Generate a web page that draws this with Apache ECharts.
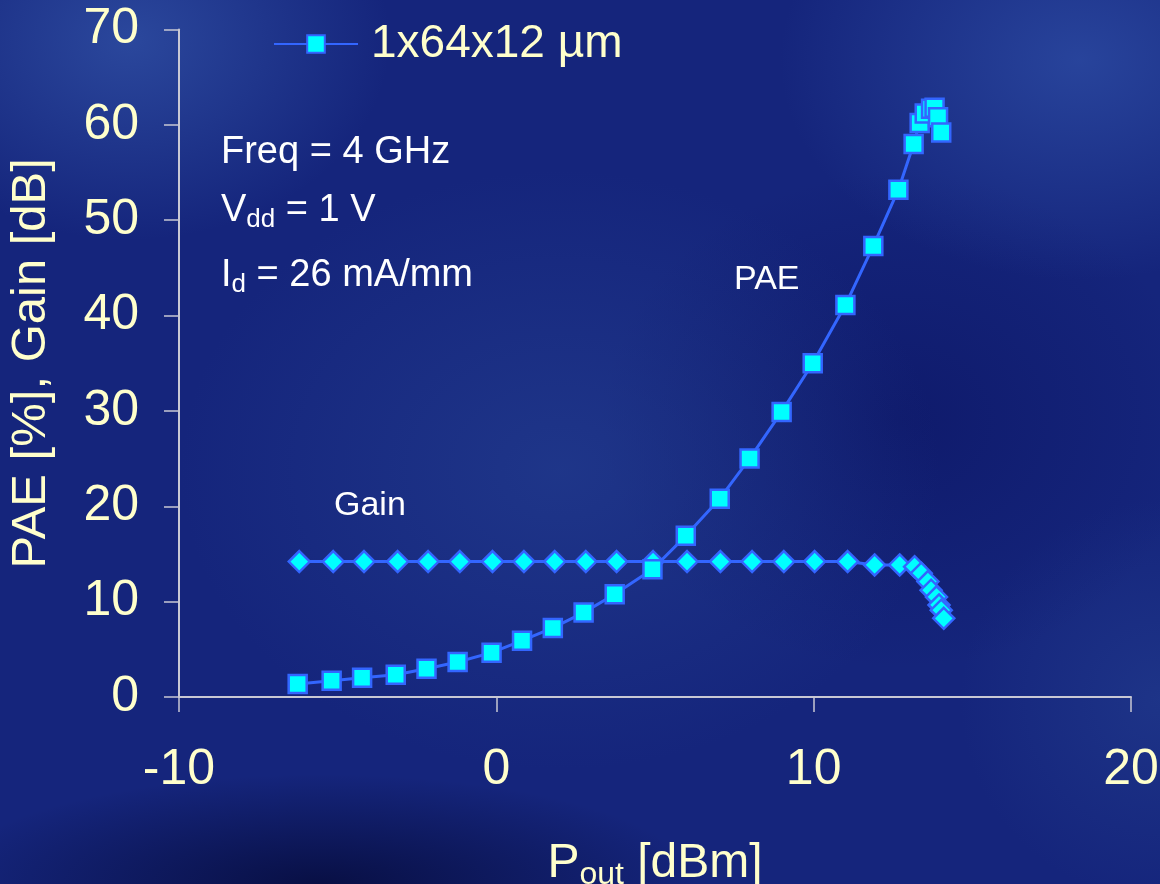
<!DOCTYPE html>
<html>
<head>
<meta charset="utf-8">
<script src="https://cdn.jsdelivr.net/npm/echarts@6/dist/echarts.min.js"></script>
<style>
html,body{margin:0;padding:0;width:1160px;height:884px;overflow:hidden;}
#bg{position:absolute;left:0;top:0;width:1160px;height:884px;
background:
 radial-gradient(ellipse 260px 200px at 130px 40px, rgba(52,86,170,0.7), rgba(52,86,170,0) 100%),
 radial-gradient(ellipse 300px 220px at 1080px 60px, rgba(50,84,172,0.65), rgba(50,84,172,0) 100%),
 radial-gradient(ellipse 380px 300px at 560px 470px, rgba(40,70,150,0.5), rgba(40,70,150,0) 100%),
 radial-gradient(ellipse 380px 110px at 320px 884px, rgba(4,8,50,0.75), rgba(4,8,50,0) 100%),
 radial-gradient(ellipse 300px 250px at 900px 420px, rgba(10,18,95,0.55), rgba(10,18,95,0) 100%),
 radial-gradient(ellipse 200px 200px at 1160px 700px, rgba(40,70,150,0.45), rgba(40,70,150,0) 100%),
 #15257c;}
#chart{position:absolute;left:0;top:0;width:1160px;height:884px;}
</style>
</head>
<body>
<div id="bg"></div>
<div id="chart"></div>
<script>
// Data
const paeName = '1x64x12 µm';
const gainName = 'Gain';
const paeX = [-6.26,-5.19,-4.23,-3.17,-2.20,-1.22,-0.15,0.81,1.78,2.75,3.73,4.92,5.97,7.04,7.98,8.99,9.97,11.0,11.88,12.67,13.15,13.34,13.5,13.7,13.81,13.92,14.02];
const paeY = [1.36,1.71,2.03,2.34,2.97,3.67,4.65,5.91,7.24,8.85,10.78,13.4,16.9,20.8,25.0,29.9,35.0,41.1,47.3,53.2,58.0,60.2,61.2,61.7,61.8,60.8,59.2];
const gainX = [-6.21,-5.14,-4.17,-3.11,-2.15,-1.15,-0.12,0.87,1.84,2.82,3.79,4.94,6.01,7.06,8.06,9.06,10.03,11.07,11.92,12.71,13.18,13.39,13.6,13.7,13.87,13.95,14.02,14.1];
const gainY = [14.2,14.2,14.2,14.2,14.2,14.2,14.2,14.2,14.2,14.2,14.2,14.2,14.2,14.2,14.2,14.2,14.2,14.2,13.85,13.85,13.67,12.98,12.1,11.2,10.5,9.65,9.1,8.25];
const xTicks = {min:-10, max:20, interval:10};
const yTicks = {min:0, max:70, interval:10};

const pair = (xs, ys) => xs.map((x, i) => [x, ys[i]]);

const labelColor = '#ffffcc';
const lineColor = '#3366ff';
const fillColor = '#00ffff';
const font = 'Liberation Sans, Arial, sans-serif';

const chart = echarts.init(document.getElementById('chart'), null, {renderer:'canvas'});
chart.setOption({
  backgroundColor: 'transparent',
  animation: false,
  textStyle: {fontFamily: font},
  grid: {left:179, right:29, top:29.5, bottom:187, containLabel:false, outerBoundsMode:'none'},
  legend: {
    data: [paeName],
    left: 268, top: 16,
    itemWidth: 84, itemHeight: 22,
    textStyle: {color: labelColor, fontSize: 46, fontFamily: font, padding:[0,0,0,8]}
  },
  xAxis: {
    type: 'value', min: xTicks.min, max: xTicks.max, interval: xTicks.interval,
    splitLine: {show:false},
    axisLine: {show:true, onZero:false, lineStyle:{color:'#c8c8d4', width:2}},
    axisTick: {show:true, inside:false, length:15, lineStyle:{color:'#c8c8d4', width:1.5}},
    axisLabel: {color: labelColor, fontSize: 50, margin: 48, fontFamily: font},
    name: '{a|P}{s|out}{a| [dBm]}',
    nameLocation: 'middle', nameGap: 140,
    nameTextStyle: {
      rich: {
        a: {color: labelColor, fontSize: 48, fontFamily: font},
        s: {color: labelColor, fontSize: 32, fontFamily: font, padding:[22,0,0,0]}
      }
    }
  },
  yAxis: {
    type: 'value', min: yTicks.min, max: yTicks.max, interval: yTicks.interval,
    splitLine: {show:false},
    axisLine: {show:true, onZero:false, lineStyle:{color:'#c8c8d4', width:2}},
    axisTick: {show:true, inside:false, length:15, lineStyle:{color:'#c8c8d4', width:1.5}},
    axisLabel: {color: labelColor, fontSize: 50, margin: 40, fontFamily: font},
    name: 'PAE [%], Gain [dB]',
    nameLocation: 'middle', nameGap: 123, nameRotate: 90,
    nameTextStyle: {color: labelColor, fontSize: 49, fontFamily: font}
  },
  graphic: [
    {type:'text', left:221, top:134, style:{text:'Freq = 4 GHz', fill:'#ffffff', font:'38px Liberation Sans, Arial, sans-serif'}},
    {type:'text', left:221, top:192, style:{
      text:'{a|V}{s|dd}{a| = 1 V}',
      rich:{a:{fill:'#ffffff', fontSize:38, fontFamily:font}, s:{fill:'#ffffff', fontSize:26, fontFamily:font, padding:[18,0,0,0]}}
    }},
    {type:'text', left:221, top:257, style:{
      text:'{a|I}{s|d}{a| = 26 mA/mm}',
      rich:{a:{fill:'#ffffff', fontSize:38, fontFamily:font}, s:{fill:'#ffffff', fontSize:26, fontFamily:font, padding:[18,0,0,0]}}
    }},
    {type:'text', left:734, top:263, style:{text:'PAE', fill:'#ffffff', font:'34px Liberation Sans, Arial, sans-serif'}},
    {type:'text', left:334, top:489, style:{text:'Gain', fill:'#ffffff', font:'34px Liberation Sans, Arial, sans-serif'}}
  ],
  series: [
    {
      name: gainName, type: 'line', data: pair(gainX, gainY),
      symbol: 'diamond', symbolSize: [21, 21],
      lineStyle: {color: lineColor, width: 3},
      itemStyle: {color: fillColor, borderColor: lineColor, borderWidth: 2.5},
      z: 3
    },
    {
      name: paeName, type: 'line', data: pair(paeX, paeY),
      symbol: 'rect', symbolSize: [18, 18],
      lineStyle: {color: lineColor, width: 3},
      itemStyle: {color: fillColor, borderColor: lineColor, borderWidth: 2.5},
      z: 4
    }
  ]
});
</script>
</body>
</html>
